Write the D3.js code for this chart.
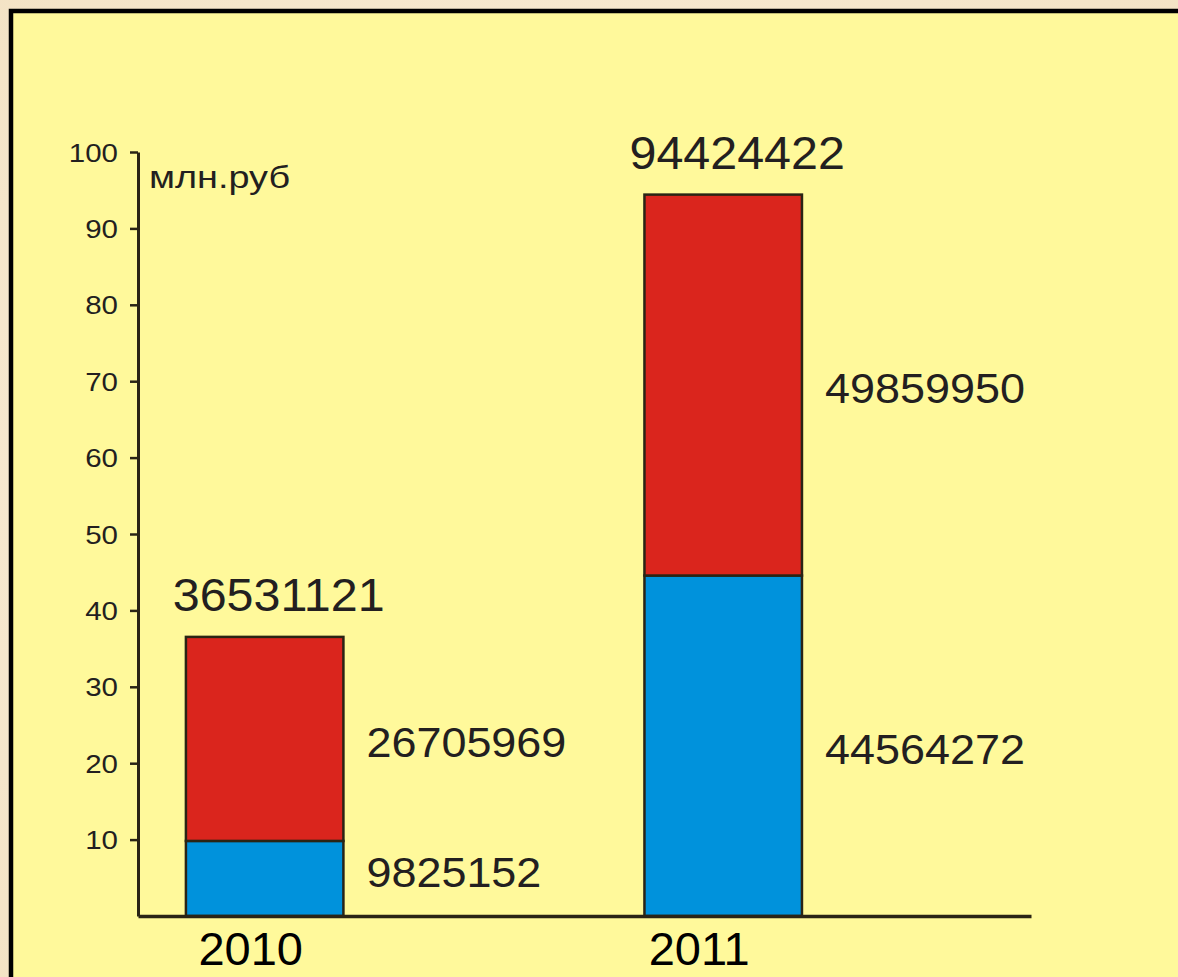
<!DOCTYPE html>
<html>
<head>
<meta charset="utf-8">
<script src="https://cdn.jsdelivr.net/npm/d3@7"></script>
<style>
  html, body { margin: 0; padding: 0; background: #f6ead2; }
  svg { display: block; }
</style>
</head>
<body>
<svg id="chart" width="1178" height="977"></svg>
<script>
// ---- data ----
const years = ["2010", "2011"];
const blueValues = [9825152, 44564272];   // lower segment
const redValues = [26705969, 49859950];   // upper segment
const totalValues = [36531121, 94424422];
const yTicks = [10, 20, 30, 40, 50, 60, 70, 80, 90, 100];
const unitLabel = "млн.руб";

const colors = { blue: "#0092dc", red: "#da251d", stroke: "#2a2415", text: "#231f20", panel: "#fff99b" };

const svg = d3.select("#chart");
const W = 1178, H = 977;

// background
const defs = svg.append("defs");
const g0 = defs.append("radialGradient").attr("id", "bg").attr("cx", "50%").attr("cy", "50%").attr("r", "75%");
g0.append("stop").attr("offset", "0%").attr("stop-color", "#fbf3e2");
g0.append("stop").attr("offset", "100%").attr("stop-color", "#f3e2c4");
svg.append("rect").attr("width", W).attr("height", H).attr("fill", "url(#bg)");

// framed panel
svg.append("rect").attr("x", 11).attr("y", 11).attr("width", W + 20).attr("height", H + 20)
  .attr("fill", colors.panel).attr("stroke", "#000").attr("stroke-width", 4.5);

// scales
const y = d3.scaleLinear().domain([0, 100]).range([916, 152]);
const x = d3.scaleBand().domain(years).range([138, 1031])
  .paddingInner(0.6565).paddingOuter(0.302).align(0.173);

function stretch(sel, f) {
  sel.each(function () {
    const n = this.getComputedTextLength();
    d3.select(this).attr("textLength", n * f).attr("lengthAdjust", "spacingAndGlyphs");
  });
}

// bars
const rows = years.map((yr, i) => ({ yr, blue: blueValues[i] / 1e6, red: redValues[i] / 1e6, total: totalValues[i] / 1e6 }));
const gBars = svg.append("g");
gBars.selectAll("rect.blue").data(rows).join("rect").attr("class", "blue")
  .attr("x", d => x(d.yr)).attr("width", x.bandwidth())
  .attr("y", d => y(d.blue)).attr("height", d => y(0) - y(d.blue))
  .attr("fill", colors.blue).attr("stroke", colors.stroke).attr("stroke-width", 2.5);
gBars.selectAll("rect.red").data(rows).join("rect").attr("class", "red")
  .attr("x", d => x(d.yr)).attr("width", x.bandwidth())
  .attr("y", d => y(d.blue + d.red)).attr("height", d => y(d.blue) - y(d.blue + d.red))
  .attr("fill", colors.red).attr("stroke", colors.stroke).attr("stroke-width", 2.5);

// y axis
const yAxis = svg.append("g").attr("transform", `translate(${x.range()[0]},0)`)
  .call(d3.axisLeft(y).tickValues(yTicks).tickSize(8).tickPadding(12).tickSizeOuter(0));
yAxis.select(".domain").attr("stroke", colors.stroke).attr("stroke-width", 3);
yAxis.selectAll(".tick line").attr("stroke", colors.stroke).attr("stroke-width", 2.5);
yAxis.selectAll(".tick text").attr("fill", colors.text)
  .style("font-family", "'Liberation Sans', Arial, sans-serif").style("font-size", "25px")
  .attr("dy", "0.36em").call(stretch, 1.18);

// x axis line
const xAxis = svg.append("g").attr("transform", `translate(0,${y(0)})`)
  .call(d3.axisBottom(x).tickSize(0).tickPadding(14));
xAxis.select(".domain").attr("stroke", colors.stroke).attr("stroke-width", 3.5);
xAxis.selectAll(".tick text").attr("fill", "#000")
  .style("font-family", "'Liberation Sans', Arial, sans-serif").style("font-size", "47px")
  .attr("dy", "0.74em")
  .attr("dx", (d, i) => i === 0 ? -14 : -24);

// unit label
svg.append("text").attr("x", x.range()[0] + 11).attr("y", 188)
  .attr("fill", colors.text)
  .style("font-family", "'Liberation Sans', Arial, sans-serif").style("font-size", "31px")
  .text(unitLabel).call(stretch, 1.22);

const font = "'Liberation Sans', Arial, sans-serif";
// total labels
svg.selectAll("text.total").data(rows).join("text").attr("class", "total")
  .attr("x", d => x(d.yr) + x.bandwidth() / 2 + 14).attr("y", d => y(d.total) - 26)
  .attr("text-anchor", "middle").attr("fill", colors.text)
  .style("font-family", font).style("font-size", "47px")
  .text(d => d3.format("d")(d.total * 1e6)).call(stretch, 1.03);

// segment labels
const segs = [];
rows.forEach((d, i) => {
  segs.push({ yr: d.yr, mid: (d.blue) / 2, val: blueValues[i] });
  segs.push({ yr: d.yr, mid: d.blue + d.red / 2, val: redValues[i] });
});
svg.selectAll("text.seg").data(segs).join("text").attr("class", "seg")
  .attr("x", d => x(d.yr) + x.bandwidth() + 23)
  .attr("y", d => Math.min(y(d.mid) + 18, y(0) - 29))
  .attr("fill", colors.text)
  .style("font-family", font).style("font-size", "42px")
  .text(d => d.val).call(stretch, 1.07);
</script>
</body>
</html>
